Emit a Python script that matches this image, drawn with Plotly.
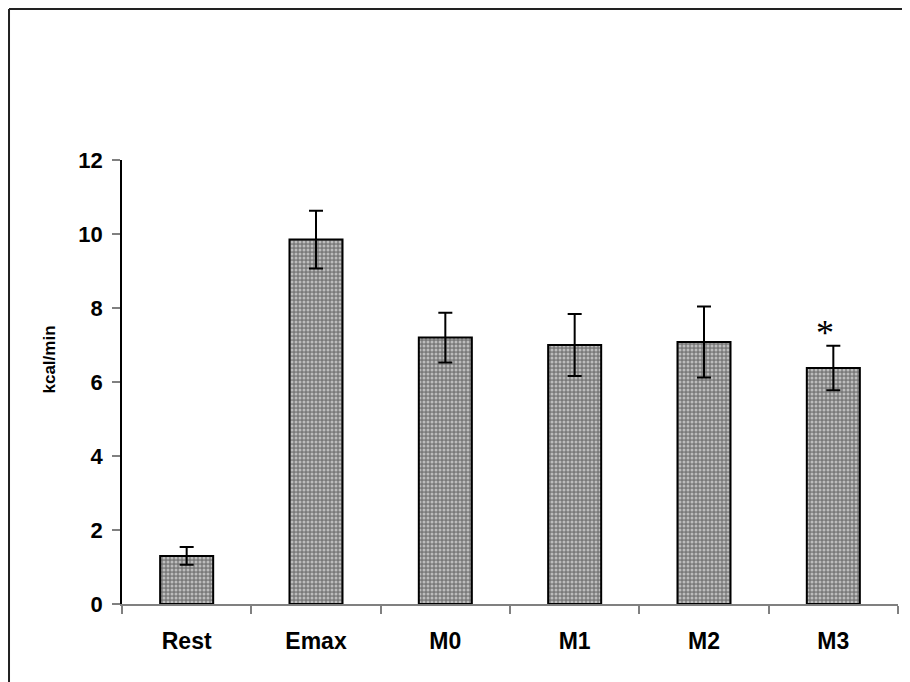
import plotly.graph_objects as go

categories = ["Rest", "Emax", "M0", "M1", "M2", "M3"]
values = [1.3, 9.85, 7.2, 7.0, 7.08, 6.38]
errors = [0.24, 0.78, 0.67, 0.84, 0.96, 0.6]
y_ticks = [0, 2, 4, 6, 8, 10, 12]
sig_category = "M3"
sig_label = "*"
y_title = "kcal/min"

fig = go.Figure()
fig.add_trace(go.Bar(
    x=categories, y=values, width=0.41,
    marker=dict(color="#9a9a9a",
                line=dict(color="black", width=2),
                pattern=dict(shape=".", fgcolor="white", bgcolor="#7a7a7a",
                             size=4, solidity=0.45)),
    error_y=dict(type="data", array=errors, visible=True,
                 color="black", thickness=2, width=7),
    showlegend=False,
))

sig_idx = categories.index(sig_category)
fig.add_annotation(x=sig_category, y=values[sig_idx] + errors[sig_idx],
                   text=sig_label, showarrow=False, yanchor="bottom",
                   xshift=-8, yshift=-9,
                   font=dict(family="Liberation Serif", size=36, color="black"))

fig.add_annotation(xref="paper", yref="paper", x=-0.108, y=0.55,
                   text=f"<b>{y_title}</b>", showarrow=False, textangle=-90,
                   font=dict(family="Liberation Sans", size=17, color="black"))

# outer frame (top and left edges visible)
fig.add_shape(type="line", xref="paper", yref="paper",
              x0=-0.1456, x1=1.05, y0=1.340, y1=1.340,
              line=dict(color="#222", width=2))
fig.add_shape(type="line", xref="paper", yref="paper",
              x0=-0.1456, x1=-0.1456, y0=-0.3, y1=1.340,
              line=dict(color="#222", width=2))

fig.update_layout(
    width=910, height=682,
    margin=dict(l=114, r=20, t=152, b=86),
    paper_bgcolor="white", plot_bgcolor="white",
    font=dict(family="Liberation Sans", color="black"),
    bargap=0.59,
)
fig.update_xaxes(type="category", range=[-0.5, 5.5],
                 showline=True, linecolor="#808080", linewidth=1.5,
                 ticks="outside", tickson="boundaries", ticklen=8,
                 tickcolor="#808080", tickwidth=1.5,
                 tickfont=dict(family="Liberation Sans", size=23, color="black", weight="bold"),
                 ticklabelstandoff=16, showgrid=False)
fig.update_yaxes(range=[0, 12], tickvals=y_ticks,
                 showline=True, linecolor="black", linewidth=1.5,
                 ticks="outside", ticklen=8, tickcolor="#808080", tickwidth=1.5,
                 tickfont=dict(family="Liberation Sans", size=22, color="black", weight="bold"),
                 ticklabelstandoff=5, showgrid=False, zeroline=False)

fig.write_html("out.html")
